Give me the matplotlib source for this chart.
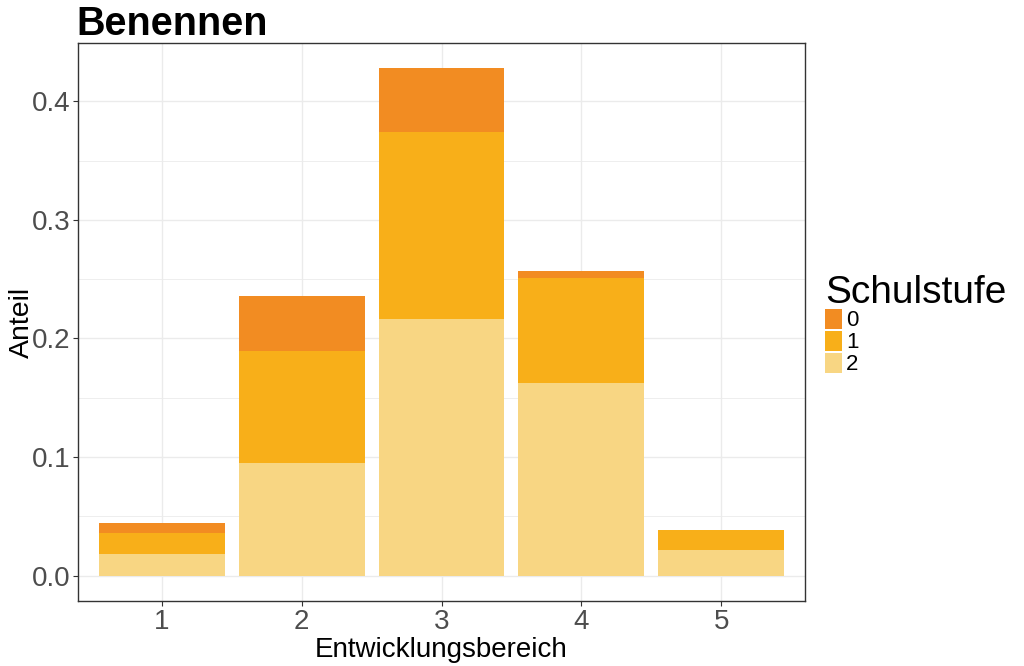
import matplotlib
matplotlib.use("Agg")
import matplotlib.pyplot as plt
import numpy as np
from matplotlib.patches import Rectangle
from matplotlib.ticker import MultipleLocator, FormatStrFormatter

plt.rcParams['font.family'] = ['Liberation Sans', 'DejaVu Sans']

categories = ["1", "2", "3", "4", "5"]
stufe_labels = ["0", "1", "2"]
anteil_2 = [0.0182, 0.0952, 0.2162, 0.1624, 0.0215]
anteil_1 = [0.0176, 0.0939, 0.1582, 0.0888, 0.0168]
anteil_0 = [0.0087, 0.0467, 0.0533, 0.0055, 0.0]
colors = {"0": "#F28C22", "1": "#F8AF19", "2": "#F8D683"}

W, H = 1024, 666
fig = plt.figure(figsize=(W/100, H/100), dpi=100)
ax = fig.add_axes([78/W, 1-601/H, (805-78)/W, (601-43)/H])

x = np.arange(1, len(categories)+1)
b2 = np.array(anteil_2)
b1 = np.array(anteil_1)
b0 = np.array(anteil_0)
ax.bar(x, b2, width=0.9, color=colors["2"], zorder=2)
ax.bar(x, b1, width=0.9, bottom=b2, color=colors["1"], zorder=2)
ax.bar(x, b0, width=0.9, bottom=b2+b1, color=colors["0"], zorder=2)

top = (b0+b1+b2).max()
ax.set_xlim(0.4, 5.6)
ax.set_ylim(-0.05*top, top*1.05)
ax.set_xticks(x)
ax.set_xticklabels(categories)
ax.yaxis.set_major_locator(MultipleLocator(0.1))
ax.yaxis.set_minor_locator(MultipleLocator(0.05))
ax.yaxis.set_major_formatter(FormatStrFormatter('%.1f'))

ax.grid(True, which='major', color='#EBEBEB', linewidth=1.0, zorder=0)
ax.grid(True, which='minor', axis='y', color='#EBEBEB', linewidth=0.6, zorder=0)
ax.set_axisbelow(True)
for s in ax.spines.values():
    s.set_color('#333333')
    s.set_linewidth(1.0)
ax.tick_params(axis='both', which='major', labelsize=20, colors='#333333', length=3.5, width=0.8, pad=2)
ax.tick_params(axis='both', which='minor', length=0)
for lab in ax.get_xticklabels() + ax.get_yticklabels():
    lab.set_color('#4D4D4D')

ax.set_xlabel("Entwicklungsbereich", fontsize=20, labelpad=2)
ax.set_ylabel("Anteil", fontsize=20.5, labelpad=-2)
ax.set_title("Benennen", fontsize=28.5, fontweight='bold', loc='left', pad=3, x=-0.002)

# legend (drawn in figure pixel coordinates)
def fx(px):
    return px / W
def fy(py):
    return 1 - py / H

fig.text(fx(825), fy(303), "Schulstufe", fontsize=28, ha='left', va='baseline', color='black')
key_tops = [309, 331, 353]
for k, t in zip(stufe_labels, key_tops):
    fig.patches.append(Rectangle((fx(825), fy(t+20)), 17/W, 20/H,
                                 transform=fig.transFigure, facecolor=colors[k],
                                 edgecolor='none'))
    fig.text(fx(846), fy(t+11), k, fontsize=16, ha='left', va='center', color='black')

fig.savefig("out.png", dpi=100)
